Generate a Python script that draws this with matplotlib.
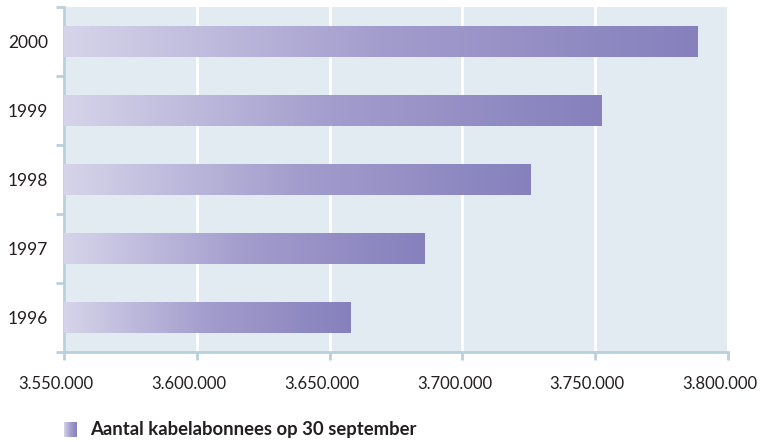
import matplotlib
matplotlib.use("Agg")
import matplotlib.pyplot as plt
import matplotlib.transforms as mtransforms
import numpy as np
from matplotlib.colors import LinearSegmentedColormap

years = ["1996", "1997", "1998", "1999", "2000"]
values = [3657700, 3685900, 3725800, 3752200, 3788700]
xticks = [3550000, 3600000, 3650000, 3700000, 3750000, 3800000]
xticklabels = ["3.550.000", "3.600.000", "3.650.000", "3.700.000", "3.750.000", "3.800.000"]
legend_label = "Aantal kabelabonnees op 30 september"

plt.rcParams['font.family'] = ['Lato', 'DejaVu Sans']

bg = "#e3ebf2"
spine_c = "#b9d0dd"
txt_c = "#231f20"
cmap = LinearSegmentedColormap.from_list("grad", ["#d6d4ea", "#a39dcd", "#8680bd"])

fig = plt.figure(figsize=(7.62, 4.42), dpi=100)
ax = fig.add_axes([64/762, 90/442, (728-64)/762, (352-7)/442])
ax.set_facecolor(bg)

ypos = np.arange(len(years))
bars = ax.barh(ypos, values, height=0.44, left=0, color="none")
x0 = xticks[0]

grad = np.linspace(0, 1, 256).reshape(1, -1)
for b, v in zip(bars, values):
    y = b.get_y()
    h = b.get_height()
    ax.imshow(grad, cmap=cmap, aspect="auto", extent=[x0, v, y, y + h],
              zorder=3, interpolation="bicubic")
ax.set_xlim(xticks[0], xticks[-1])
ax.set_ylim(-0.5, len(years) - 0.5)

ax.set_xticks(xticks)
ax.set_xticklabels(xticklabels)
ax.set_yticks(ypos)
ax.set_yticklabels(years)
ax.set_yticks(np.arange(-0.5, len(years)), minor=True)
ax.grid(axis="x", color="white", linewidth=2, zorder=1)
ax.set_axisbelow(True)

for s in ["top", "right"]:
    ax.spines[s].set_visible(False)
for s in ["left", "bottom"]:
    ax.spines[s].set_color(spine_c)
    ax.spines[s].set_linewidth(2)

ax.tick_params(axis="x", direction="out", length=6, width=2, color=spine_c,
               labelsize=12, labelcolor=txt_c, pad=11)
ax.tick_params(axis="y", which="major", length=0, labelsize=12.5, labelcolor=txt_c, pad=11.5)
ax.tick_params(axis="y", which="minor", direction="out", length=6, width=2, color=spine_c)

offset = mtransforms.ScaledTranslation(-8/100, 0, fig.dpi_scale_trans)
for lab in ax.get_xticklabels():
    lab.set_transform(lab.get_transform() + offset)

# legend
lax = fig.add_axes([64/762, (442-437)/442, 13/762, 15/442])
lax.imshow(grad, cmap=cmap, aspect="auto", extent=[0, 1, 0, 1], interpolation="nearest")
lax.axis("off")
fig.text(90/762, (442-430)/442, legend_label, fontsize=13.3, fontweight="bold",
         color=txt_c, va="center", ha="left")

fig.savefig("out.png", dpi=100)
